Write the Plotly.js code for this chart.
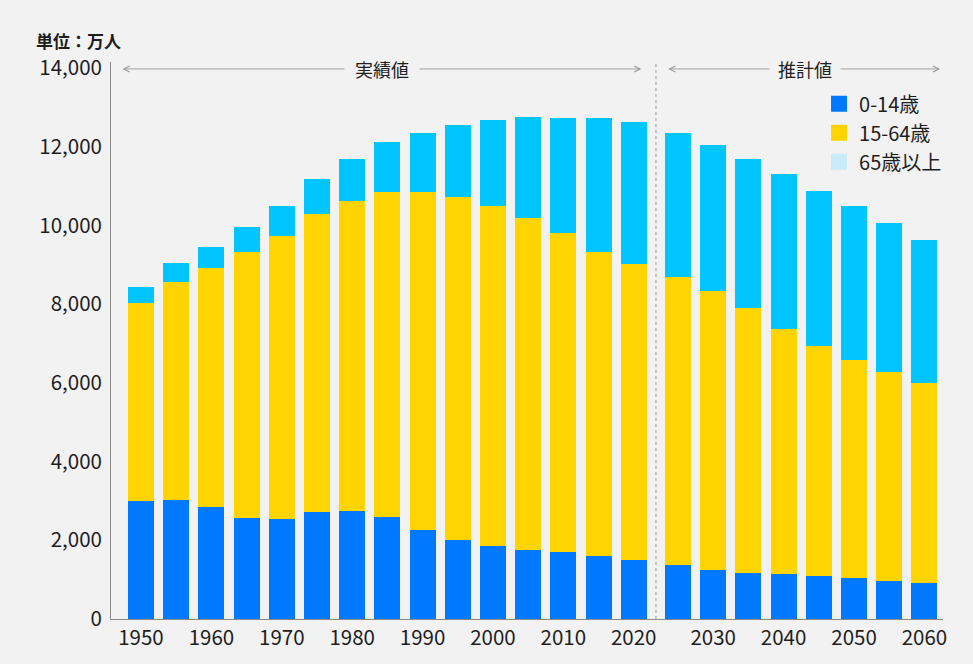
<!DOCTYPE html>
<html>
<head>
<meta charset="utf-8">
<script src="https://cdn.plot.ly/plotly-3.0.1.min.js"></script>
<style>
  html, body { margin: 0; padding: 0; background: #f2f2f2; }
  #chart { width: 973px; height: 664px; }
</style>
</head>
<body>
<div id="chart"></div>
<script>
// Years: actual (実績値) and projected (推計値)
const yearsActual    = [1950, 1955, 1960, 1965, 1970, 1975, 1980, 1985, 1990, 1995, 2000, 2005, 2010, 2015, 2020];
const yearsProjected = [2025, 2030, 2035, 2040, 2045, 2050, 2055, 2060];

// Population in 万人
const age0to14Actual     = [3000, 3020, 2850, 2570, 2530, 2720, 2750, 2600, 2250, 2010, 1850, 1755, 1690, 1600, 1510];
const age15to64Actual    = [5020, 5530, 6070, 6750, 7210, 7580, 7880, 8260, 8600, 8720, 8630, 8420, 8110, 7730, 7510];
const age65plusActual    = [ 420,  490,  540,  630,  740,  890, 1065, 1255, 1490, 1820, 2205, 2585, 2930, 3410, 3610];

const age0to14Projected  = [1370, 1250, 1180, 1150, 1105, 1045,  970,  910];
const age15to64Projected = [7310, 7080, 6730, 6220, 5830, 5545, 5315, 5080];
const age65plusProjected = [3660, 3700, 3775, 3930, 3950, 3890, 3770, 3645];

const seriesNames = ['0-14歳', '15-64歳', '65歳以上'];
const yTicks = [0, 2000, 4000, 6000, 8000, 10000, 12000, 14000];
const xTicksActual = [1950, 1960, 1970, 1980, 1990, 2000, 2010, 2020];
const xTicksProjected = [2030, 2040, 2050, 2060];

const colors = ['#0078ff', '#ffd400', '#00c5ff'];
const legendColors = ['#0078ff', '#ffd400', '#c9ebfa'];
const BW = 3.7;
const FONT = '"Noto Sans CJK JP", "Noto Sans", sans-serif';
const TXT = '#1e1e1e';

const actualSets = [age0to14Actual, age15to64Actual, age65plusActual];
const projSets = [age0to14Projected, age15to64Projected, age65plusProjected];

const traces = [];
for (let i = 0; i < 3; i++) {
  traces.push({
    type: 'bar', x: yearsActual, y: actualSets[i], name: seriesNames[i],
    marker: { color: colors[i], line: { width: 0 } }, width: BW,
    xaxis: 'x', yaxis: 'y', legendgroup: 'g' + i, showlegend: false
  });
}
for (let i = 0; i < 3; i++) {
  traces.push({
    type: 'bar', x: yearsProjected, y: projSets[i], name: seriesNames[i],
    marker: { color: colors[i], line: { width: 0 } }, width: BW,
    xaxis: 'x2', yaxis: 'y', legendgroup: 'g' + i, showlegend: false
  });
}
// legend entries (square swatches, lighter swatch for 65歳以上 as in the original)
for (let i = 0; i < 3; i++) {
  traces.push({
    type: 'scatter', mode: 'markers', x: [null], y: [null], name: seriesNames[i],
    marker: { color: legendColors[i], symbol: 'square', size: 16 },
    xaxis: 'x', yaxis: 'y', legendgroup: 'g' + i, showlegend: true
  });
}

const split = 0.655;

const axisCommon = {
  showline: true, linecolor: '#8a8a8a', linewidth: 1,
  showgrid: false, zeroline: false, ticks: '',
  tickfont: { family: FONT, size: 20.5, color: TXT },
  fixedrange: true
};

const layout = {
  width: 973, height: 664,
  margin: { l: 111, r: 30, t: 62, b: 45 },
  paper_bgcolor: '#f2f2f2', plot_bgcolor: '#f2f2f2',
  barmode: 'stack',
  font: { family: FONT, color: TXT },
  showlegend: true,
  legend: {
    x: 0.851, y: 0.96, xanchor: 'left', yanchor: 'top',
    traceorder: 'normal', bgcolor: 'rgba(0,0,0,0)',
    font: { family: FONT, size: 20, color: TXT },
    itemwidth: 30
  },
  xaxis: Object.assign({}, axisCommon, {
    domain: [0, split], range: [1945.74, 2023.16],
    tickmode: 'array', tickvals: xTicksActual, ticktext: xTicksActual.map(String)
  }),
  xaxis2: Object.assign({}, axisCommon, {
    domain: [split, 1], range: [2021.875, 2062.64], anchor: 'y',
    tickmode: 'array', tickvals: xTicksProjected, ticktext: xTicksProjected.map(String)
  }),
  yaxis: Object.assign({}, axisCommon, {
    range: [0, 14150], tickmode: 'array', tickvals: yTicks,
    ticktext: yTicks.map(v => v.toLocaleString('en-US')),
    ticklabelstandoff: 4
  }),
  shapes: [
    { type: 'line', xref: 'paper', yref: 'paper', x0: split, x1: split, y0: 0, y1: 1.002,
      line: { color: '#9a9a9a', width: 1, dash: 'dot' } }
  ],
  annotations: [
    { xref: 'paper', yref: 'paper', x: -0.0925, y: 1.038, xanchor: 'left', yanchor: 'middle',
      text: '単位：万人', showarrow: false,
      font: { family: FONT, size: 17, color: TXT, weight: 'bold' } },
    // 実績値 arrow
    { xref: 'paper', yref: 'paper', x: 0.6375, y: 0.9875, ax: 0.012, ay: 0.9875,
      axref: 'paper', ayref: 'paper', text: '', showarrow: true,
      arrowhead: 5, startarrowhead: 5, arrowside: 'end+start', arrowsize: 1.3, arrowwidth: 0.9, arrowcolor: '#9a9a9a' },
    { xref: 'paper', yref: 'paper', x: 0.3254, y: 0.9875, xanchor: 'center', yanchor: 'middle',
      text: '実績値', showarrow: false, bgcolor: '#f2f2f2', borderpad: 10,
      font: { family: FONT, size: 18, color: TXT } },
    // 推計値 arrow
    { xref: 'paper', yref: 'paper', x: 0.9966, y: 0.9875, ax: 0.6679, ay: 0.9875,
      axref: 'paper', ayref: 'paper', text: '', showarrow: true,
      arrowhead: 5, startarrowhead: 5, arrowside: 'end+start', arrowsize: 1.3, arrowwidth: 0.9, arrowcolor: '#9a9a9a' },
    { xref: 'paper', yref: 'paper', x: 0.834, y: 0.9875, xanchor: 'center', yanchor: 'middle',
      text: '推計値', showarrow: false, bgcolor: '#f2f2f2', borderpad: 8,
      font: { family: FONT, size: 18, color: TXT } }
  ]
};

Plotly.newPlot('chart', traces, layout, { displayModeBar: false, staticPlot: true });
</script>
</body>
</html>
